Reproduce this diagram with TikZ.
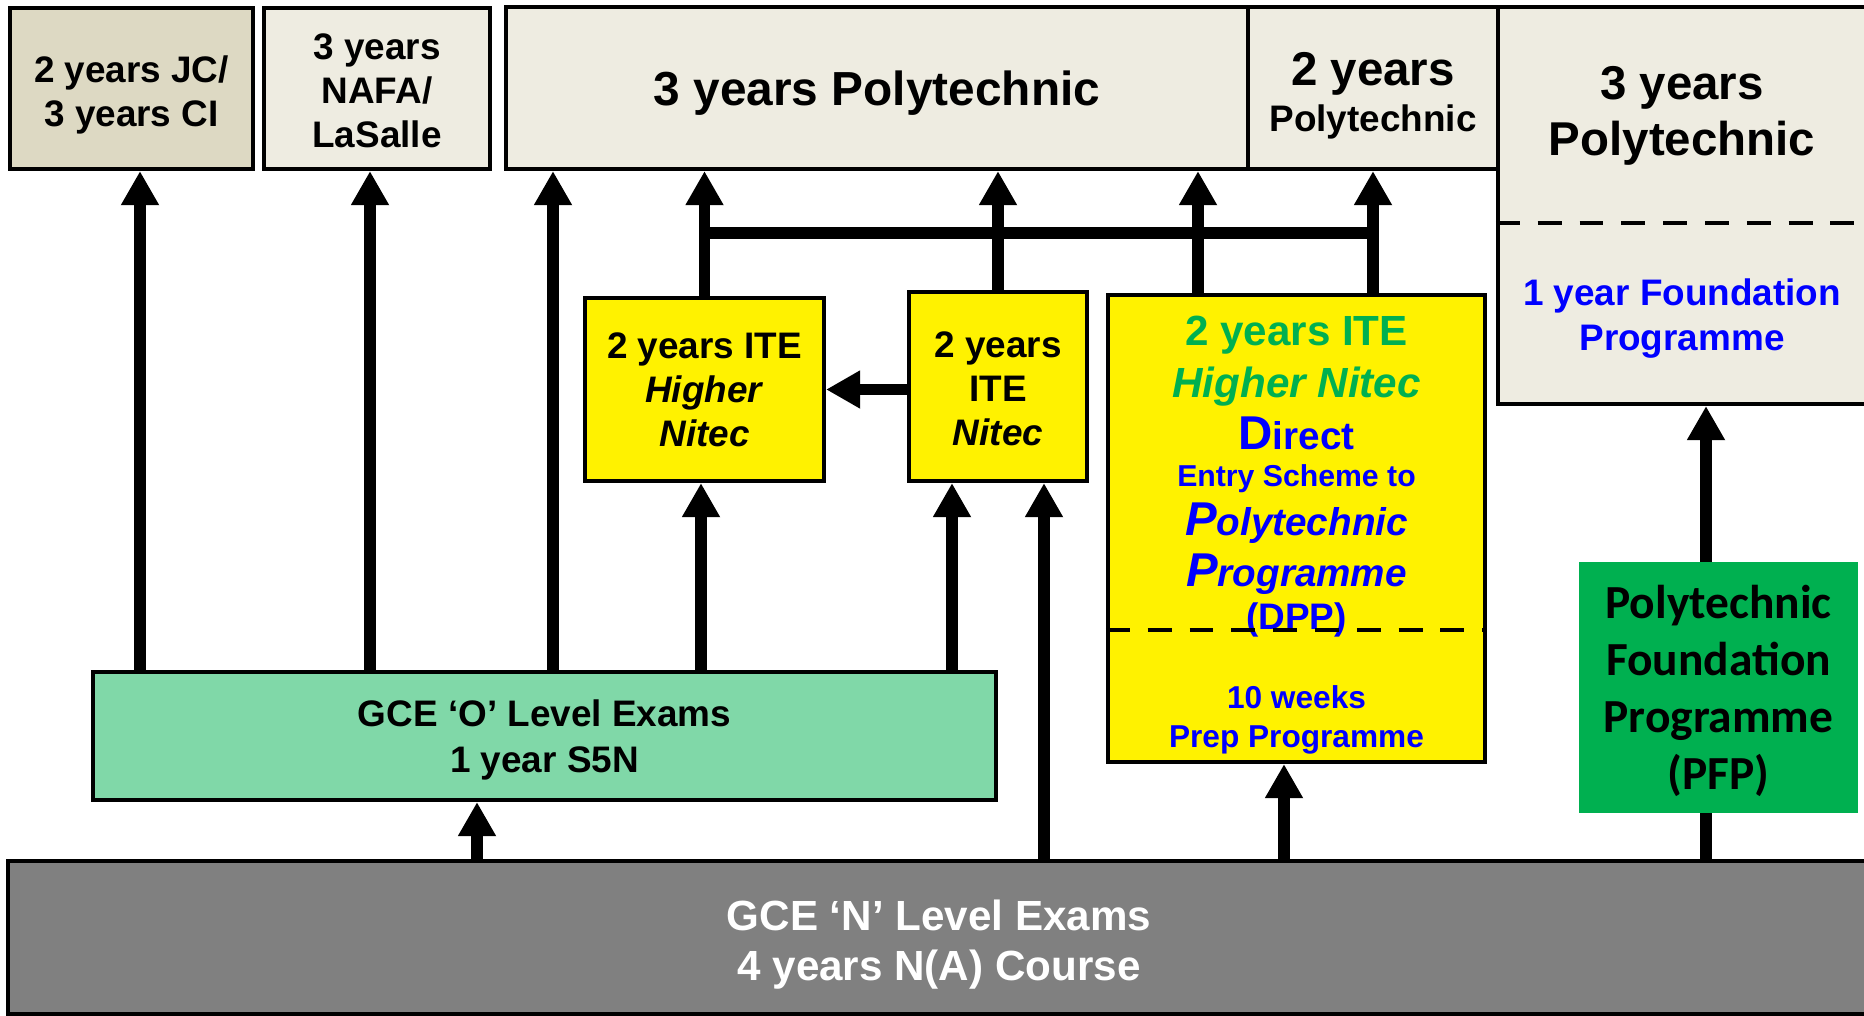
\documentclass[tikz,border=0pt]{standalone}
\usepackage{fontspec}
\setmainfont{Liberation Sans}
\newfontfamily\pfpfont{Carlito}
\usetikzlibrary{positioning,arrows.meta}

\begin{document}
\begin{tikzpicture}
%styles
	\tikzset{
	box/.style={rectangle, draw, line width=1.2pt, align=center, inner sep=0pt, text depth=0pt},
	plain/.style={rectangle, align=center, inner sep=0pt},
	arr/.style={line width=3.4pt, -{Triangle[width=10.2pt,length=9.7pt]}},
	bus/.style={line width=3.4pt},
	sep/.style={line width=1.4pt, dash pattern=on 6.8pt off 5.1pt},
	mid/.style={font=\bfseries\fontsize{10.5}{12.6}\selectfont},
	big/.style={font=\bfseries\fontsize{13.5}{16}\selectfont}}

	\definecolor{jctan}{RGB}{221,217,195}
	\definecolor{polybg}{RGB}{238,236,225}
	\definecolor{olgreen}{RGB}{128,216,168}
	\definecolor{pfpgreen}{RGB}{0,176,80}
	\definecolor{nlgray}{RGB}{128,128,128}
	\definecolor{itegreen}{RGB}{0,176,80}
	\definecolor{txtblue}{RGB}{0,0,255}

	\useasboundingbox (0,0) rectangle (18.64,-10.16);

%oben
	\node[box, mid, text height=21.6pt, fill=jctan, minimum width=2.43cm, minimum height=1.61cm] (jc) at (1.315,-0.885) {2 years JC/\\3 years CI};
	\node[box, mid, text height=33.7pt, fill=polybg, minimum width=2.26cm, minimum height=1.61cm] (nafa) at (3.77,-0.885) {3 years\\NAFA/\\LaSalle};
	\node[box, font=\bfseries\fontsize{13.6}{16}\selectfont, fill=polybg, minimum width=7.42cm, minimum height=1.62cm] (poly3) at (8.77,-0.88) {3 years Polytechnic};
	\node[box, text height=24.7pt, font=\bfseries\fontsize{10.5}{13}\selectfont, fill=polybg, minimum width=2.50cm, minimum height=1.62cm] (poly2) at (13.73,-0.88) {{\fontsize{13.5}{13}\selectfont 2 years}\\Polytechnic};
	\node[box, fill=polybg, minimum width=3.70cm, minimum height=3.97cm] (polyR) at (16.83,-2.055) {};
	\node[plain, big] (polyRtxt) at (16.82,-1.158) {3 years\\Polytechnic};
	\node[plain, font=\bfseries\fontsize{10.5}{13}\selectfont, text=txtblue] (found) at (16.82,-3.186) {1 year Foundation\\Programme};
	\draw[sep] (polyR.west |- 0,-2.23) -- (polyR.east |- 0,-2.23);

%mitte
	\node[box, mid, fill=yellow, minimum width=2.39cm, minimum height=1.83cm] (hn) at (7.045,-3.895) {2 years ITE\\\textit{Higher}\\\textit{Nitec}};
	\node[box, mid, text height=33.7pt, fill=yellow, minimum width=1.78cm, minimum height=1.89cm] (nitec) at (9.98,-3.865) {2 years\\ITE\\\textit{Nitec}};
	\node[box, fill=yellow, minimum width=3.77cm, minimum height=4.67cm] (dpp) at (12.965,-5.285) {};
	\node[plain, anchor=north, text=txtblue, font=\bfseries\fontsize{11}{14.8}\selectfont] (dpptxt) at (12.965,-3.15) {%
		{\color{itegreen}\fontsize{12}{14}\selectfont 2 years ITE}\\
		{\color{itegreen}\fontsize{12}{14}\selectfont\itshape Higher Nitec}\\
		{\fontsize{13.5}{14}\selectfont D}{\fontsize{11}{14}\selectfont irect}\\[-4.1pt]
		{\fontsize{8.6}{14}\selectfont Entry Scheme to}\\[-0.9pt]
		{\itshape\fontsize{13.5}{14}\selectfont P}{\itshape\fontsize{11}{14}\selectfont olytechnic}\\[-0.3pt]
		{\itshape\fontsize{13.5}{14}\selectfont P}{\itshape\fontsize{11}{14}\selectfont rogramme}\\[-2.7pt]
		{\fontsize{10.5}{14}\selectfont (DPP)}};
	\node[plain, text=txtblue, font=\bfseries\fontsize{9}{11.1}\selectfont] (prep) at (12.965,-7.2) {10 weeks\\Prep Programme};
	\draw[sep] (dpp.west |- 0,-6.30) -- (dpp.east |- 0,-6.30);

%unten
	\node[box, font=\bfseries\fontsize{10.5}{13.2}\selectfont, fill=olgreen, minimum width=9.03cm, minimum height=1.28cm] (olev) at (5.445,-7.36) {GCE ‘O’ Level Exams\\1 year S5N};
	\node[box, text height=24.4pt, line width=1.4pt, fill=nlgray, text=white, font=\bfseries\fontsize{12}{14.2}\selectfont, minimum width=18.62cm, minimum height=1.53cm] (nlev) at (9.39,-9.375) {GCE ‘N’ Level Exams\\4 years N(A) Course};

%pfeile
	\coordinate (xjc) at (1.40,0);
	\coordinate (xnafa) at (3.70,0);
	\coordinate (xpoly) at (5.53,0);
	\coordinate (xhn) at (7.01,0);
	\coordinate (xnit) at (9.52,0);
	\coordinate (xnl) at (10.44,0);
	\coordinate (xol) at (4.77,0);
	\coordinate (xdpp) at (12.84,0);
	\coordinate (xpfp) at (17.06,0);
	\coordinate (xdl) at (11.98,0);
	\coordinate (ybar) at (0,-2.33);

	\draw[arr] (olev.north -| xjc) -- (jc.south -| xjc);
	\draw[arr] (olev.north -| xnafa) -- (nafa.south -| xnafa);
	\draw[arr] (olev.north -| xpoly) -- (poly3.south -| xpoly);
	\draw[arr] (olev.north -| xhn) -- (hn.south -| xhn);
	\draw[arr] (olev.north -| xnit) -- (nitec.south -| xnit);
	\draw[arr] (nlev.north -| xnl) -- (nitec.south -| xnl);
	\draw[arr] (nlev.north -| xol) -- (olev.south -| xol);
	\draw[arr] (nlev.north -| xdpp) -- (dpp.south -| xdpp);
	\draw[arr] (nitec.west |- hn.east) -- (hn.east);

	\draw[arr] (hn.north) -- (hn.north |- poly3.south);
	\draw[arr] (nitec.north) -- (nitec.north |- poly3.south);
	\draw[arr] (dpp.north -| xdl) -- (poly3.south -| xdl);
	\draw[arr] (dpp.north -| poly2.south) -- (poly2.south);
	\draw[bus] (hn.north |- ybar) -- (poly2.south |- ybar);

	\draw[arr] (nlev.north -| xpfp) -- (polyR.south -| xpfp);
	\node[plain, text depth=0pt, fill=pfpgreen, font=\pfpfont\bfseries\fontsize{13.5}{16.2}\selectfont, minimum width=2.79cm, minimum height=2.51cm] (pfp) at (17.185,-6.875) {Polytechnic\\Foundation\\Programme\\(PFP)};

\end{tikzpicture}
\end{document}
